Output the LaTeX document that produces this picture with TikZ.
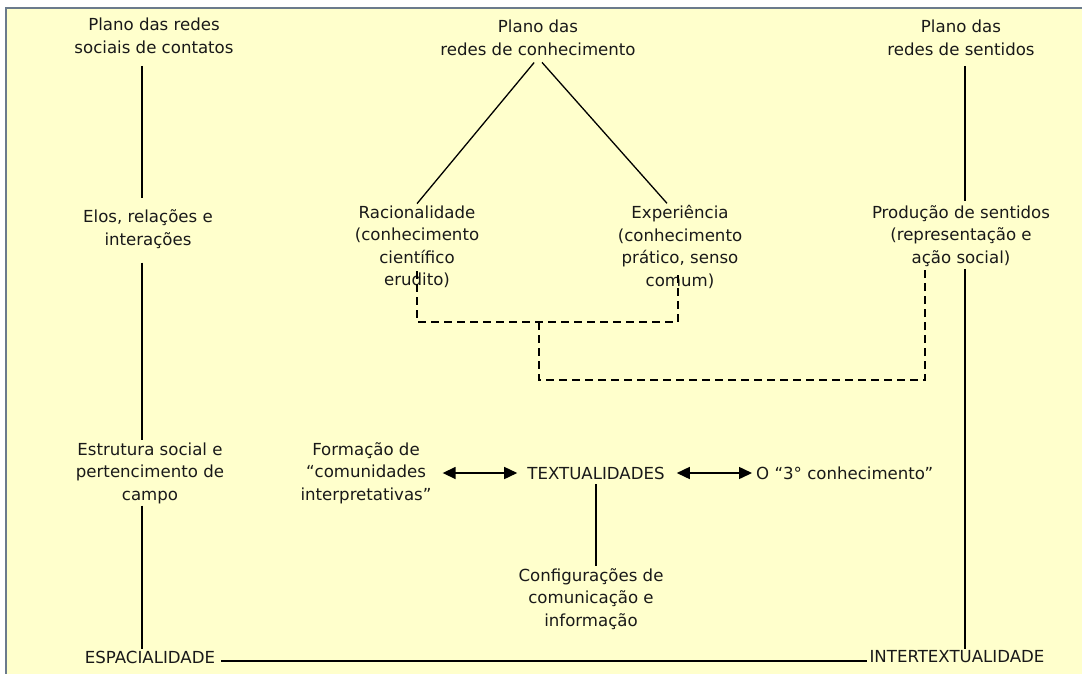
\documentclass[tikz,border=0pt]{standalone}
\usepackage{fontspec}
\setmainfont{DejaVu Sans}
\usetikzlibrary{arrows.meta,positioning}

\definecolor{paper}{HTML}{FFFFCC}
\definecolor{frame}{HTML}{6B7B8C}

\begin{document}
\begin{tikzpicture}[x=1pt, y=-1pt,
    lbl/.style={align=center, font=\fontsize{16.6}{22.5}\selectfont, text=black!90, inner sep=2pt},
    pole/.style={line width=2pt},
    tri/.style={line width=1.3pt},
    dashln/.style={line width=2pt, dash pattern=on 8pt off 5pt},
    arr/.style={{Triangle[length=13pt,width=12pt]}-{Triangle[length=13pt,width=12pt]}, line width=1.5pt},
]
\useasboundingbox (0,0) rectangle (1082,673);
\fill[paper] (6,8) rectangle (1100,700);
\draw[frame, line width=1.5pt] (6,700) -- (6,8) -- (1100,8);

% Top row
\node[lbl] (soc) at (154,36) {Plano das redes\\sociais de contatos};
\node[lbl] (con) at (538,38) {Plano das\\redes de conhecimento};
\node[lbl] (sen) at (961,38) {Plano das\\redes de sentidos};

% Middle row
\node[lbl] (elos) at (148,229) {Elos, relações e\\interações};
\node[lbl] (rac) at (417,247) {Racionalidade\\(conhecimento\\científico\\erudito)};
\node[lbl] (exp) at (680,247) {Experiência\\(conhecimento\\prático, senso\\comum)};
\node[lbl] (prod) at (961,236) {Produção de sentidos\\(representação e\\ação social)};

% Lower row
\node[lbl] (estr) at (150,473) {Estrutura social e\\pertencimento de\\campo};
\node[lbl] (form) at (366,473) {Formação de\\“comunidades\\interpretativas”};
\node[lbl] (txt) at (596,473) {TEXTUALIDADES};
\node[lbl, anchor=west] (terc) at (754,473) {O “3° conhecimento”};
\node[lbl] (conf) at (591,599) {Configurações de\\comunicação e\\informação};

% Bottom row
\node[lbl] (esp) at (150,657) {ESPACIALIDADE};
\node[lbl] (inter) at (957,657) {INTERTEXTUALIDADE};

% Side poles
\coordinate (colA) at (142,0);
\coordinate (colC) at (965,0);
\draw[pole, shorten <=10pt, shorten >=10pt] (colA |- soc.south) -- (colA |- elos.north);
\draw[pole, shorten <=12pt] (colA |- elos.south) -- (colA |- estr.north);
\draw[pole] (colA |- estr.south) -- (colA |- esp.north);
\draw[pole, shorten <=8pt, shorten >=2pt] (colC |- sen.south) -- (colC |- prod.north);
\draw[pole] (colC |- prod.south) -- (colC |- inter.north);

% Knowledge branches
\draw[tri, shorten <=6pt] (con.south) -- (rac.north);
\draw[tri, shorten <=6pt] (con.south) -- ([xshift=-13pt]exp.north);

% Dashed joins
\coordinate (knot) at (539,322);
\coordinate (sink) at (925,380);
\draw[dashln] ([yshift=19pt]rac.south) |- (knot) -| ([xshift=-2pt,yshift=19pt]exp.south);
\draw[dashln] (knot) |- (sink) -- ([xshift=-36pt]prod.south);

% Textualities
\draw[arr, shorten <=9pt, shorten >=8pt] (form) -- (txt);
\draw[arr, shorten <=10pt, shorten >=2pt] (txt) -- (terc);
\draw[tri, shorten <=3pt] (txt.south) -- (txt.south |- conf.north);

% Base line
\draw[line width=1.5pt, shorten <=4pt] ([yshift=-4pt]esp.east) -- ([yshift=-4pt]inter.west);
\end{tikzpicture}
\end{document}
